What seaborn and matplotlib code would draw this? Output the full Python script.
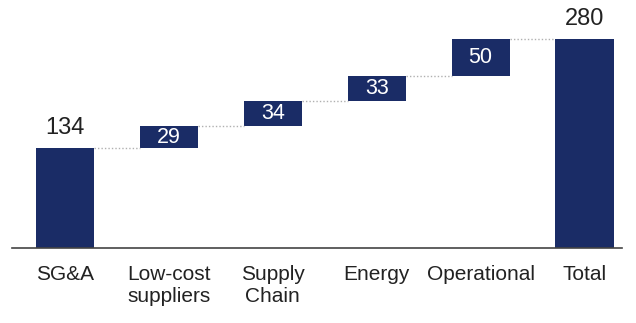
import numpy as np
import pandas as pd
import seaborn as sns
import matplotlib.pyplot as plt

# donnees du waterfall
categories = ["SG&A", "Low-cost\nsuppliers", "Supply\nChain", "Energy", "Operational", "Total"]
steps = [134, 29, 34, 33, 50]
total = 280

heights = steps + [total]
bottoms = [0] + list(np.cumsum(steps)[:-1]) + [0]
df = pd.DataFrame({"cat": categories, "val": heights, "base": bottoms})

sns.set_style("white")
plt.rcParams["font.family"] = ["Liberation Sans", "DejaVu Sans"]

navy = "#1a2c66"
fig = plt.figure(figsize=(6.36, 3.23), dpi=100)
ax = fig.add_axes([12 / 636, 75 / 323, 610 / 636, 248 / 323])

sns.barplot(data=df, x="cat", y="val", bottom=df["base"].values, color=navy,
            width=0.56, linewidth=0, saturation=1, ax=ax)

# lignes pointillees entre les barres
w = 0.56
for i in range(len(heights) - 1):
    level = df["base"][i] + df["val"][i]
    ax.plot([i + w / 2, i + 1 - w / 2], [level, level], ls=(0, (1, 1.5)),
            color="#b0b0b0", lw=1)

# etiquettes
for i, (h, b) in enumerate(zip(df["val"], df["base"])):
    if b == 0:
        ax.text(i, h + 12, str(h), ha="center", va="bottom", fontsize=17, color="#222222")
    else:
        ax.text(i, b + h / 2, str(h), ha="center", va="center", fontsize=15.5, color="white")

ax.set_xlim(-0.51, 5.36)
ax.set_ylim(0, 332)
ax.set_xlabel("")
ax.set_ylabel("")
ax.set_yticks([])
for s in ["top", "right", "left"]:
    ax.spines[s].set_visible(False)
ax.spines["bottom"].set_color("#444444")
ax.spines["bottom"].set_linewidth(1.2)
ax.tick_params(axis="x", length=0, pad=12, labelsize=15, colors="#222222")
for lab in ax.get_xticklabels():
    lab.set_linespacing(1.25)

fig.savefig("out.png", dpi=100)
